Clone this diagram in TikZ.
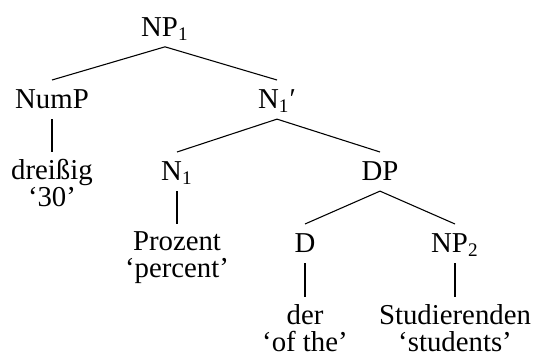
\documentclass[tikz,border=0pt]{standalone}
\usepackage{fontspec}
\setmainfont{Liberation Serif}
\begin{document}
\begin{tikzpicture}[
  x=0.41667pt, y=-0.41667pt,
  font=\fontsize{12}{11.25}\selectfont,
  cat/.style={anchor=north, inner sep=3pt, text height=8.7pt, text depth=1.2pt},
  leaf/.style={anchor=north, inner sep=3pt, align=center},
  branch/.style={line width=0.45pt}
]
\useasboundingbox (0,0) rectangle (534,358);

% categories
\node[cat] (np1)   at (165,7.7) {NP\textsubscript{1}};
\node[cat] (nump)  at (52,80)   {NumP};
\node[cat] (n1bar) at (277,80)  {N\textsubscript{1}′};
\node[cat] (n1)    at (177,152) {N\textsubscript{1}};
\node[cat] (dp)    at (380,152) {DP};
\node[cat] (d)     at (305,224) {D};
\node[cat] (np2)   at (455,224) {NP\textsubscript{2}};

% words with glosses
\node[leaf] (dreissig) at (52,152)  {dreißig\\‘30’};
\node[leaf] (prozent)  at (177,224) {Prozent\\‘percent’};
\node[leaf] (der)      at (305,297) {der\\‘of the’};
\node[leaf] (stud)     at (455,297) {Studierenden\\‘students’};

% branches
\draw[branch] (np1.south)   -- (nump.north);
\draw[branch] (np1.south)   -- (n1bar.north);
\draw[branch] (nump.south)  -- (dreissig.north);
\draw[branch] (n1bar.south) -- (n1.north);
\draw[branch] (n1bar.south) -- (dp.north);
\draw[branch] (n1.south)    -- (prozent.north);
\draw[branch] (dp.south)    -- (d.north);
\draw[branch] (dp.south)    -- (np2.north);
\draw[branch] (d.south)     -- (der.north);
\draw[branch] (np2.south)   -- (stud.north);
\end{tikzpicture}
\end{document}
